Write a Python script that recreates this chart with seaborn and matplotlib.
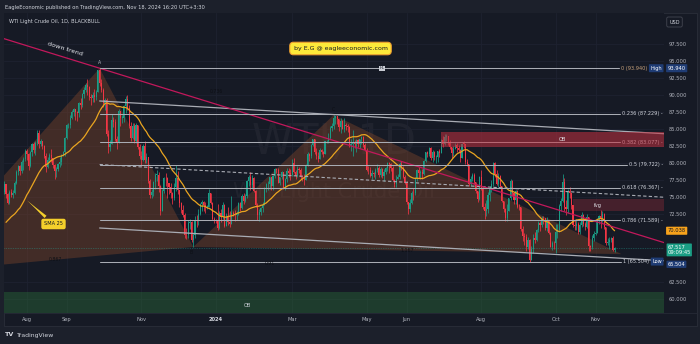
import numpy as np
import pandas as pd
import matplotlib
matplotlib.use("Agg")
import matplotlib.pyplot as plt
import matplotlib.transforms as mtransforms
from matplotlib.patches import Rectangle
import seaborn as sns

# ---------------- daily WTI candles (weekdays from 2023-06-12) ----------------
start_day = "2023-06-12"
first_open = 70.10

close = [
    67.12, 69.42, 68.27, 70.62, 71.78, 71.50, 71.19, 72.53, 69.51, 69.16, 69.37, 67.70, 69.56, 69.86, 70.64,
    69.79, 70.50, 71.79, 71.80, 73.86, 72.99, 74.83, 75.75, 76.89, 75.42, 74.15, 75.75, 75.35, 75.63, 77.07,
    78.74, 79.63, 78.78, 80.09, 80.58, 81.80,
    81.37, 79.49, 81.55, 82.82, 81.94, 82.92, 84.40, 82.82, 83.19, 82.51, 80.99, 79.38, 80.39, 81.25,
    80.72, 79.64, 78.89, 79.05, 79.83, 80.10, 81.16, 81.63, 83.63,
    85.55, 85.60, 86.69, 87.54, 87.87, 87.51, 87.29, 88.84, 88.52, 90.16, 90.77, 91.48, 91.20, 89.66,
    89.63, 90.03, 89.68, 90.39, 93.68, 91.71, 90.79,
    88.82, 89.23, 84.22, 82.31, 82.79, 86.38, 85.97, 83.49, 82.91, 87.69, 86.66, 86.66, 88.32, 89.37,
    88.08, 85.49, 83.74, 85.39, 83.21, 85.54, 82.31, 81.02,
    80.44, 82.46, 80.51, 80.82, 77.37, 75.33, 75.74, 77.17, 78.26, 78.26, 76.66, 72.90, 75.89, 77.83,
    77.77, 77.10, 76.50, 75.54, 74.86, 76.41, 77.86, 75.96,
    74.07, 73.04, 72.32, 69.38, 69.34, 71.23, 71.32, 68.61, 69.47, 71.58, 71.43, 72.47, 73.94, 74.22,
    73.89, 73.56, 73.60, 75.57, 74.11, 71.77, 71.65,
    71.60, 70.38, 72.70, 72.19, 73.81, 70.77, 72.24, 71.37, 71.02, 72.68, 72.50, 72.40, 72.56, 74.08,
    73.41, 75.19, 74.37, 75.09, 77.36, 78.01, 76.78, 77.82, 75.85,
    73.82, 72.28, 72.78, 73.31, 73.86, 76.22, 76.84, 76.92, 77.87, 76.64, 78.03, 79.19, 79.00, 77.04,
    77.91, 78.61, 76.49, 77.58, 78.87, 78.54, 78.26,
    79.97, 78.74, 78.15, 79.13, 78.93, 78.01, 77.93, 77.56, 79.72, 81.26, 81.04, 82.72, 83.47, 81.68,
    81.07, 80.63, 81.95, 81.62, 81.35, 83.17, 83.20,
    83.71, 85.15, 85.43, 86.59, 86.91, 86.43, 85.23, 86.21, 85.02, 85.66, 85.41, 85.36, 82.69, 82.73,
    83.14, 82.85, 83.36, 82.81, 83.57, 83.85, 82.63, 81.93,
    79.00, 78.95, 78.11, 78.48, 78.38, 78.99, 79.26, 78.26, 79.12, 78.02, 78.63, 79.23, 80.06, 79.80,
    79.26, 77.57, 76.87, 77.72, 78.00, 79.83, 79.23, 77.91, 76.99,
    74.22, 73.25, 74.07, 75.55, 75.53, 77.74, 78.90, 78.50, 78.62, 78.45, 80.33, 81.57, 81.30, 82.17,
    80.73, 81.63, 80.83, 80.90, 81.74, 81.54,
    83.38, 82.81, 83.88, 83.90, 83.16, 82.33, 81.41, 82.10, 82.62, 82.21, 81.91, 80.76, 82.85, 82.82,
    80.13, 79.78, 76.96, 77.59, 78.28, 77.16, 75.81, 74.73, 77.91,
    76.31, 73.52, 72.94, 73.20, 75.23, 76.19, 76.84, 80.06, 78.35, 76.98, 78.16, 76.65, 74.37, 73.17,
    71.93, 73.01, 74.83, 77.42, 75.53, 74.52, 75.91, 73.55,
    73.50, 70.34, 69.20, 69.15, 67.67, 68.71, 65.75, 67.31, 68.97, 68.65, 70.09, 71.19, 70.91, 71.95,
    71.92, 70.37, 71.56, 69.69, 67.67, 68.18, 68.17,
    69.83, 70.10, 73.71, 74.38, 77.14, 73.57, 73.24, 75.85, 75.56, 73.83, 70.90, 70.75, 71.00, 69.80,
    70.90, 72.35, 71.10, 70.55, 72.033, 67.75, 67.60, 68.95, 69.60,
    69.70, 71.70, 72.20, 71.90, 72.55, 70.60, 68.30, 68.35, 68.65, 68.95, 67.25, 67.517,
]

high = [
    70.3, 69.8, 70.0, 70.8, 72.2, 72.0, 72.2, 72.7, 72.4, 70.1, 70.0, 69.6, 69.7, 70.3, 70.9,
    71.7, 71.2, 72.0, 72.2, 74.0, 74.0, 75.0, 76.4, 77.3, 76.9, 75.6, 76.0, 76.2, 76.0, 77.3,
    79.0, 79.7, 79.7, 80.4, 80.9, 82.0,
    82.0, 81.5, 81.7, 83.0, 83.1, 83.2, 84.9, 84.8, 83.5, 83.3, 82.6, 81.4, 80.9, 81.5,
    82.0, 80.8, 79.9, 79.4, 80.0, 80.9, 81.3, 81.8, 83.8,
    85.8, 85.9, 87.0, 87.8, 88.1, 87.9, 87.6, 89.0, 89.6, 90.3, 91.2, 91.8, 92.4, 91.3,
    90.2, 90.4, 90.9, 90.7, 93.75, 93.94, 92.4,
    91.0, 89.6, 89.5, 84.9, 83.4, 87.2, 86.7, 86.4, 83.9, 87.9, 87.5, 87.1, 88.6, 89.8,
    90.0, 88.5, 86.0, 85.9, 85.9, 85.9, 85.6, 82.8,
    81.8, 82.8, 83.2, 81.5, 80.8, 77.6, 76.2, 77.4, 78.6, 79.0, 78.7, 76.7, 76.2, 78.0,
    78.5, 78.0, 77.1, 77.0, 75.8, 77.0, 79.7, 78.8,
    76.0, 74.3, 73.8, 72.6, 70.4, 71.6, 71.8, 71.4, 69.7, 72.2, 72.3, 73.2, 74.1, 74.5,
    74.4, 74.2, 73.8, 76.2, 75.6, 74.3, 72.0,
    71.8, 73.9, 73.0, 73.2, 74.2, 73.9, 72.6, 73.5, 72.9, 75.2, 72.9, 73.1, 72.9, 74.2,
    74.3, 75.5, 75.6, 75.4, 77.5, 78.2, 78.7, 78.2, 77.9,
    76.0, 74.1, 73.3, 73.6, 74.2, 76.4, 77.0, 77.4, 78.0, 78.0, 78.2, 79.3, 79.3, 79.3,
    78.0, 78.8, 78.7, 77.8, 79.3, 79.2, 79.1,
    80.6, 80.8, 79.0, 79.5, 79.4, 79.3, 78.3, 78.4, 79.8, 81.6, 81.4, 82.8, 83.6, 83.5,
    82.2, 81.6, 82.2, 82.0, 81.8, 83.2, 83.4,
    84.4, 85.5, 85.9, 87.05, 86.95, 86.8, 86.5, 86.6, 86.3, 86.6, 85.9, 85.8, 85.5, 83.5,
    84.9, 83.4, 83.6, 83.6, 83.6, 84.0, 84.0, 82.9,
    82.2, 79.6, 79.4, 78.9, 78.7, 79.3, 79.9, 79.6, 79.4, 79.3, 79.1, 79.4, 80.1, 80.1,
    80.0, 79.6, 77.7, 78.3, 78.4, 80.1, 80.3, 79.6, 78.2,
    77.4, 74.2, 74.7, 75.9, 76.3, 77.9, 79.1, 79.4, 78.9, 79.1, 80.4, 81.6, 81.7, 82.4,
    82.3, 81.9, 81.7, 81.2, 81.8, 82.0,
    83.5, 83.9, 84.3, 84.2, 84.0, 83.4, 82.4, 82.5, 82.9, 82.9, 82.6, 82.1, 83.0, 83.3,
    82.6, 80.6, 79.9, 78.1, 78.5, 78.6, 77.1, 75.9, 78.1,
    78.9, 76.5, 74.1, 74.6, 75.7, 76.6, 77.5, 80.2, 80.1, 78.9, 78.5, 78.3, 76.6, 74.4,
    73.4, 74.0, 74.9, 77.6, 77.5, 75.4, 76.0, 76.1,
    74.0, 73.6, 70.7, 69.7, 69.5, 69.1, 68.8, 67.8, 69.6, 69.8, 70.3, 71.5, 71.5, 72.2,
    72.2, 71.9, 72.0, 71.4, 69.8, 68.6, 68.5,
    71.0, 71.0, 74.0, 74.9, 78.4, 77.8, 74.6, 76.2, 76.5, 75.5, 73.8, 71.6, 71.8, 71.3,
    71.3, 72.8, 72.5, 71.3, 72.5, 69.4, 68.0, 69.4, 70.0,
    71.4, 71.9, 72.4, 73.1, 72.9, 72.6, 70.5, 69.0, 69.1, 69.1, 69.2, 67.7,
]

low = [
    66.8, 67.1, 67.7, 67.9, 70.2, 71.0, 70.2, 71.1, 69.1, 67.9, 68.6, 67.1, 67.6, 69.0, 69.4,
    69.0, 69.6, 70.2, 70.7, 71.4, 72.7, 72.8, 74.6, 75.5, 74.9, 73.9, 73.9, 75.0, 74.8, 75.4,
    76.9, 78.3, 78.3, 78.6, 79.0, 80.3,
    80.5, 78.9, 79.4, 81.0, 81.5, 81.2, 82.6, 82.2, 82.5, 82.0, 80.7, 78.7, 79.2, 80.2,
    80.1, 79.2, 77.7, 78.0, 78.8, 79.4, 79.7, 81.1, 81.0,
    83.5, 85.2, 85.1, 86.5, 86.9, 86.3, 86.2, 86.8, 88.0, 88.3, 89.6, 90.5, 90.0, 89.3,
    88.6, 88.9, 89.0, 89.3, 90.5, 91.3, 90.4,
    88.2, 87.8, 83.9, 81.5, 81.8, 83.9, 85.3, 83.2, 82.0, 83.4, 85.5, 85.9, 86.0, 87.3,
    87.8, 85.2, 83.3, 83.5, 82.9, 82.9, 82.1, 80.6,
    79.6, 80.3, 80.0, 80.0, 77.1, 74.9, 74.9, 75.2, 76.2, 77.3, 75.7, 72.4, 73.1, 75.6,
    76.6, 74.9, 75.5, 74.8, 74.0, 74.5, 75.9, 75.5,
    73.5, 72.6, 72.0, 69.0, 68.8, 69.0, 70.3, 68.4, 67.65, 69.0, 70.6, 70.9, 72.4, 73.0,
    73.0, 72.7, 73.3, 73.5, 73.9, 71.6, 71.2,
    71.2, 70.2, 70.3, 71.3, 71.8, 70.6, 70.9, 70.9, 70.6, 71.2, 72.2, 71.5, 71.6, 72.4,
    73.0, 73.2, 74.0, 74.2, 74.8, 76.6, 76.0, 76.2, 75.7,
    73.5, 71.6, 71.4, 72.4, 72.8, 73.8, 75.8, 76.1, 76.2, 76.1, 76.1, 77.8, 78.6, 77.0,
    76.8, 77.6, 76.2, 76.1, 77.2, 78.0, 77.5,
    78.1, 78.6, 77.6, 78.0, 78.5, 77.6, 77.4, 76.7, 77.5, 79.6, 80.3, 80.8, 82.5, 81.3,
    80.6, 80.2, 80.6, 81.3, 80.9, 81.3, 82.9,
    83.0, 83.6, 84.7, 85.0, 85.7, 85.8, 84.7, 84.4, 85.0, 84.6, 84.8, 84.6, 82.3, 81.7,
    81.0, 82.2, 81.6, 82.4, 82.2, 82.8, 82.3, 81.8,
    78.8, 78.4, 77.9, 77.7, 77.9, 77.6, 78.7, 78.0, 78.0, 77.8, 77.3, 78.4, 78.8, 78.6,
    78.8, 77.4, 76.4, 76.5, 77.6, 77.7, 78.9, 77.8, 76.9,
    74.0, 72.5, 72.8, 74.0, 74.6, 75.3, 77.3, 77.8, 77.7, 77.7, 78.3, 80.1, 80.9, 81.0,
    80.5, 80.2, 80.5, 80.0, 80.2, 80.9,
    81.4, 82.3, 82.7, 83.3, 82.6, 82.0, 80.8, 81.0, 82.0, 81.6, 81.6, 80.2, 80.8, 82.2,
    79.9, 79.5, 76.6, 76.6, 77.3, 76.9, 75.6, 74.2, 74.6,
    76.0, 73.3, 71.7, 72.2, 72.7, 74.4, 75.8, 76.6, 78.0, 76.7, 76.5, 76.4, 74.2, 72.8,
    71.5, 71.5, 73.0, 74.5, 75.2, 73.9, 73.9, 73.4,
    73.1, 70.0, 68.5, 68.0, 67.1, 67.4, 65.504, 65.8, 66.8, 68.2, 68.5, 69.8, 70.0, 70.6,
    71.0, 70.1, 70.0, 69.5, 67.6, 67.2, 67.3,
    66.8, 68.9, 69.8, 73.0, 74.2, 73.0, 72.3, 72.6, 74.8, 73.3, 70.6, 70.1, 70.2, 69.6,
    69.6, 70.6, 70.8, 70.2, 70.4, 67.0, 67.1, 67.4, 68.6,
    69.4, 70.2, 71.0, 70.4, 71.3, 70.3, 68.0, 67.9, 67.4, 68.4, 67.0, 66.9,
]

# ---------------- drawings ----------------
sma_window = 25
fib_high, fib_low = 93.940, 65.504
fib_levels = [0, 0.236, 0.382, 0.5, 0.618, 0.786, 1]
fib_anchor_day = "2023-09-28"

pattern_names = ["X", "A", "B", "C", "D"]
pattern_days = ["2023-05-04", "2023-09-28", "2023-12-13", "2024-04-04", "2024-11-22"]
pattern_prices = [63.9, 93.94, 67.65, 87.05, 66.6]
pattern_ratios = ["0.867", "0.736", "1.167", "0.91"]   # on XB, AC, BD, XD

trend_days = ["2023-09-28", "2024-11-18"]
trend_prices = [93.94, 70.54]

channel_days = ["2023-09-28", "2024-12-31"]
channel_upper = [89.12, 84.27]
channel_lower = [70.44, 65.59]

ob_supply = ("2024-07-01", 82.3, 84.5)
fvg_zone = ("2024-10-15", 72.9, 74.7)
ob_demand = (57.0, 61.1)

tick_days = ["2023-08-01", "2023-09-01", "2023-11-01", "2024-01-01", "2024-03-01",
             "2024-05-01", "2024-06-03", "2024-08-01", "2024-10-01", "2024-11-01"]
tick_labels = ["Aug", "Sep", "Nov", "2024", "Mar", "May", "Jun", "Aug", "Oct", "Nov"]
price_ticks = [60.0, 62.5, 65.0, 67.5, 70.0, 72.5, 75.0, 77.5, 80.0, 82.5, 85.0,
               87.5, 90.0, 92.5, 95.0, 97.5]
countdown = "09:09:45"

# ---------------- colours ----------------
OUTER = "#1c202b"
PANEL = "#161a25"
GRID = "#1e2230"
TXT = "#b2b5be"
UP, DOWN = "#1a9c86", "#f23645"
SMA_C = "#eaa520"
TREND_C = "#c2185b"
LINE_C = "#a9acb4"


def pos(day):
    return int(np.busday_count(start_day, day))


sns.set_theme(style="dark")
plt.rcParams["font.family"] = ["DejaVu Sans"]

c = np.array(close)
o = np.r_[first_open, c[:-1]]
h = np.maximum.reduce([np.array(high), o, c])
l = np.minimum.reduce([np.array(low), o, c])
x = np.arange(len(c))
sma = pd.Series(c).rolling(sma_window).mean().to_numpy()

W, H = 700, 344
fig = plt.figure(figsize=(7, 3.44), dpi=100, facecolor=OUTER)
ax = fig.add_axes([4 / W, 1 - 313 / H, 660 / W, 300 / H])
ax.set_facecolor(PANEL)
fig.patches.append(Rectangle((4 / W, 1 - 326 / H), 693 / W, 313 / H, transform=fig.transFigure,
                             fc=PANEL, ec="#2a2e39", lw=0.6, zorder=-5))
xlim = (22.85, 403.5)
ylim = (57.94, 102.06)
ax.set_xlim(*xlim)
ax.set_ylim(*ylim)
for s in ax.spines.values():
    s.set_visible(False)

# price-axis badges sit over the scale; scale labels hidden under them are left out
badge_spans = [(fib_high - 1.0, fib_high + 1.0), (fib_low - 1.3, fib_low + 1.0),
               (sma[-1] - 1.0, sma[-1] + 1.0), (c[-1] - 1.9, c[-1] + 1.2)]
shown_ticks = [p for p in price_ticks if not any(a < p < b for a, b in badge_spans)]

# axes / grid
ax.set_xticks([pos(d) for d in tick_days], tick_labels)
ax.set_yticks(shown_ticks, [f"{p:.3f}" for p in shown_ticks])
ax.yaxis.tick_right()
ax.tick_params(axis="x", length=0, pad=2.6, labelsize=3.7, labelcolor=TXT)
ax.tick_params(axis="y", length=0, pad=3.4, labelsize=3.7, labelcolor=TXT)
for lab in ax.get_xticklabels():
    if lab.get_text().isdigit():
        lab.set_fontweight("bold")
        lab.set_color("#d1d4dc")
ax.grid(True, color=GRID, lw=0.6)
ax.set_axisbelow(True)
fig.add_artist(plt.Line2D([4 / W, 697 / W], [1 - 313 / H] * 2, color="#262a36", lw=0.6))

blend = mtransforms.blended_transform_factory(ax.transAxes, ax.transData)

# watermark
ax.text(0.5, 0.57, "WTI, 1D", transform=ax.transAxes, ha="center", va="center",
        fontsize=30, color="white", alpha=0.045, zorder=0.2)
ax.text(0.5, 0.403, "WTI Light Crude Oil", transform=ax.transAxes, ha="center", va="center",
        fontsize=15, color="white", alpha=0.045, zorder=0.2)

# demand OB zone
ax.axhspan(ob_demand[0], ob_demand[1], color="#2f7d3c", alpha=0.35, lw=0, zorder=1)
ax.text(pos("2024-01-25"), 59.1, "OB", ha="center", va="center", fontsize=3.6, color="#d1d4dc", zorder=5)

# harmonic pattern triangles
px = [pos(d) for d in pattern_days]
pp = pattern_prices
ax.fill([px[0], px[1], px[2]], [pp[0], pp[1], pp[2]], color="#8b4a2b", alpha=0.38, lw=0, zorder=1.2)
ax.fill([px[2], px[3], px[4]], [pp[2], pp[3], pp[4]], color="#8b4a2b", alpha=0.38, lw=0, zorder=1.2)
for (i, j), r in zip([(0, 2), (1, 3), (2, 4), (0, 4)], pattern_ratios):
    ax.text((px[i] + px[j]) / 2, (pp[i] + pp[j]) / 2, r, ha="center", va="center",
            fontsize=3.3, color="#0d0f15", zorder=5)
ax.text(px[1], pp[1] + 0.5, "A", ha="center", va="bottom", fontsize=3.3, color=TXT, zorder=5)
ax.text(px[3], pp[3] + 0.5, "C", ha="center", va="bottom", fontsize=3.3, color="#0d0f15", zorder=5)
ax.text(px[2] - 1, pp[2] - 0.5, "B", ha="center", va="top", fontsize=3.3, color="#0d0f15", zorder=5)

# candles
colors = np.where(c >= o, UP, DOWN)
ax.vlines(x, l, h, colors=colors, lw=0.55, zorder=3)
ax.bar(x, np.maximum(np.abs(c - o), 0.05), bottom=np.minimum(o, c), width=0.62,
       color=colors, lw=0, zorder=3.1)

# SMA 25
sns.lineplot(x=x, y=sma, ax=ax, color=SMA_C, lw=0.9, zorder=3.5, sort=False)
ax.annotate("SMA 25", xy=(35, sma[35]), xytext=(51.4, 71.03), fontsize=3.6, color="#131722",
            ha="center", va="center", zorder=6,
            bbox=dict(boxstyle="round,pad=0.55,rounding_size=0.4", fc="#f4cf2b", ec="none"),
            arrowprops=dict(arrowstyle="wedge,tail_width=0.6,shrink_factor=0.4",
                            fc="#f4cf2b", ec="none"))

# parallel channel
cx = [pos(d) for d in channel_days]
ax.plot(cx, channel_upper, color=LINE_C, lw=0.9, zorder=4)
ax.plot(cx, channel_lower, color=LINE_C, lw=0.9, zorder=4)
mid = [(a + b) / 2 for a, b in zip(channel_upper, channel_lower)]
ax.plot(cx, mid, color=LINE_C, lw=0.8, ls=(0, (3, 2)), zorder=4)

# down trend line
tx = [pos(d) for d in trend_days]
ax.axline((tx[0], trend_prices[0]), (tx[1], trend_prices[1]), color=TREND_C, lw=0.9, zorder=4.2)
ax.text(58.0, 96.76, "down trend", rotation=-17, ha="center", va="center",
        fontsize=4.6, color="#e6e8ee", zorder=6)

# supply OB and FVG zones
ax.fill_between([pos(ob_supply[0]), xlim[1]], ob_supply[1], ob_supply[2],
                color="#c2303f", alpha=0.55, lw=0, zorder=4.5)
ax.text(pos("2024-10-07"), 83.4, "OB", ha="center", va="center", fontsize=3.6, color="#e6e8ee", zorder=6)
ax.fill_between([pos(fvg_zone[0]), xlim[1]], fvg_zone[1], fvg_zone[2],
                color="#c2303f", alpha=0.28, lw=0, zorder=4.5)
ax.text(pos("2024-11-01") + 1.4, 73.8, "fvg", ha="center", va="center", fontsize=3.6, color="#e6e8ee", zorder=6)

# current price line
ax.axhline(c[-1], color="#26a69a", lw=0.5, ls=(0, (1, 1.5)), alpha=0.7, zorder=2.5)

# fibonacci retracement: High / Low badges at the two ends
badge = dict(boxstyle="round,pad=0.3,rounding_size=0.15", ec="none")
end_badges = {
    0: ax.text(0.997, fib_high, "High", transform=blend, ha="right", va="center", fontsize=3.6,
               color="white", zorder=7, bbox=dict(badge, fc="#1f3c74")),
    1: ax.text(0.997, fib_low, "Low", transform=blend, ha="right", va="center", fontsize=3.6,
               color="white", zorder=7, bbox=dict(badge, fc="#1f3c74")),
}
fig.canvas.draw()
renderer = fig.canvas.get_renderer()
ax_to_frac = ax.transAxes.inverted()

ax_x = pos(fib_anchor_day)
fib_texts = []
for lvl in fib_levels:
    price = fib_high - lvl * (fib_high - fib_low)
    if lvl in end_badges:
        bx0 = end_badges[lvl].get_bbox_patch().get_window_extent(renderer).x0
        xr = ax_to_frac.transform((bx0 - 1.5, 0))[0]
        label, col = f"{lvl:g} ({price:.3f})", ("#c8a27c" if lvl == 0 else "#d1d4dc")
    else:
        xr, label, col = 0.998, f"{lvl:g} ({price:.3f}) -", "#d1d4dc"
    t = ax.text(xr, price, label, transform=blend, ha="right", va="center",
                fontsize=3.6, color=col, zorder=4.4)
    fib_texts.append((price, t))

ax.text(pos("2024-05-14"), fib_high, "HL", ha="center", va="center", fontsize=2.8, color="#131722",
        zorder=6, bbox=dict(boxstyle="square,pad=0.15", fc="#c9ccd4", ec="none"))

# price-axis badges
def axis_badge(price, text, fc, tc, pad=0.3):
    ax.annotate(text, xy=(1, price), xycoords=("axes fraction", "data"), xytext=(2.6, 0),
                textcoords="offset points", ha="left", va="center", fontsize=3.7, color=tc,
                annotation_clip=False, zorder=8, linespacing=1.2,
                bbox=dict(boxstyle=f"round,pad={pad},rounding_size=0.15", fc=fc, ec="none"))

axis_badge(fib_high, f"{fib_high:.3f}", "#1f3c74", "white")
axis_badge(fib_low - 0.4, f"{fib_low:.3f}", "#1f3c74", "white", pad=0.22)
axis_badge(sma[-1], f"{sma[-1]:.3f}", "#f7a21b", "#131722")
axis_badge(c[-1] - 0.3, f"{c[-1]:.3f}\n{countdown}", "#1b9e85", "white", pad=0.2)

# header texts
fig.text(5 / W, 1 - 7 / H, "EagleEconomic published on TradingView.com, Nov 18, 2024 16:20 UTC+3:30",
         ha="left", va="center", fontsize=3.7, color="#d1d4dc")
ax.text(0.0076, 0.971, "WTI Light Crude Oil, 1D, BLACKBULL", transform=ax.transAxes,
        ha="left", va="center", fontsize=3.6, color="#d1d4dc", zorder=7)
fig.text(674.5 / W, 1 - 22 / H, "USD", ha="center", va="center", fontsize=3.6, color="#d1d4dc",
         bbox=dict(boxstyle="round,pad=0.5,rounding_size=0.3", fc=PANEL, ec="#434651", lw=0.6))
fig.text(340.5 / W, 1 - 48.5 / H, "by E.G @ eagleeconomic.com", ha="center", va="center",
         fontsize=4.5, color="#131722",
         bbox=dict(boxstyle="round,pad=0.6,rounding_size=0.6", fc="#fde93a", ec="#f0a030", lw=0.8))
fig.text(5 / W, 1 - 335 / H, "TV", ha="left", va="center", fontsize=4.6, color="#d1d4dc",
         fontweight="bold")
fig.text(16.5 / W, 1 - 335 / H, "TradingView", ha="left", va="center", fontsize=4.4, color="#d1d4dc")

# fib lines run from the swing high and stop just before their labels
fig.canvas.draw()
inv = ax.transData.inverted()
for price, t in fib_texts:
    bb = t.get_window_extent(renderer)
    x_end = inv.transform((bb.x0 - 2, 0))[0]
    ax.plot([ax_x, x_end], [price, price], color=LINE_C, lw=0.75, zorder=4.3)

fig.savefig("out.png", dpi=100, facecolor=OUTER)
